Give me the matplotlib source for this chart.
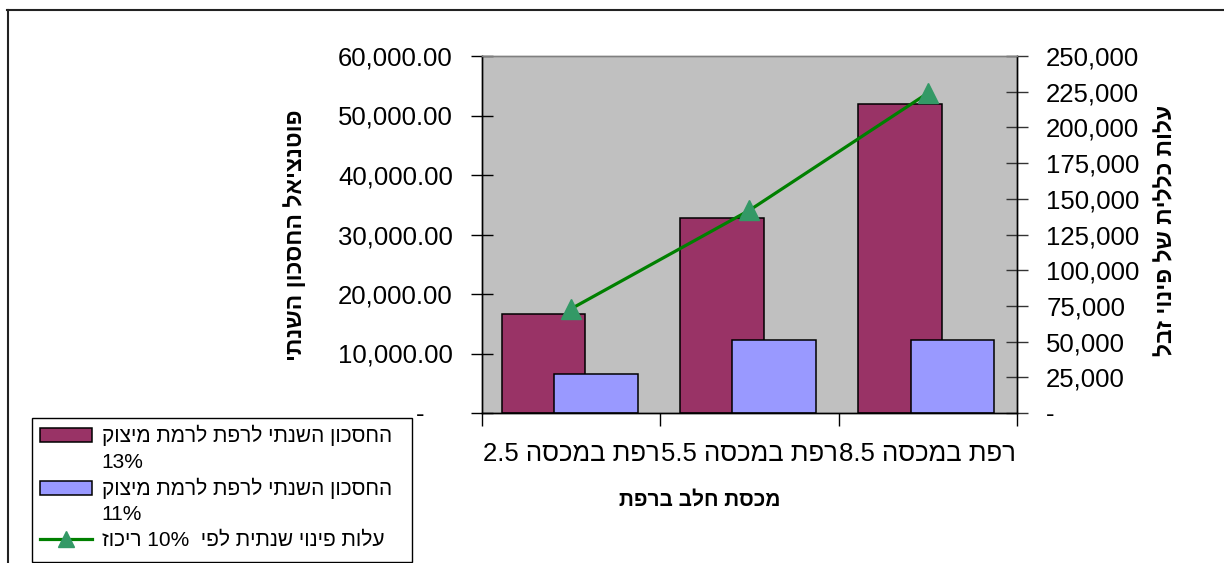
import numpy as np
import matplotlib
matplotlib.use('Agg')
import matplotlib.pyplot as plt
from matplotlib.patches import Rectangle
from matplotlib.lines import Line2D
from matplotlib.ticker import FuncFormatter

plt.rcParams['font.family'] = ['Liberation Sans', 'DejaVu Sans']

# Data
categories = ['רפת במכסה 2.5', 'רפת במכסה 5.5', 'רפת במכסה 8.5']
savings_13 = [16700, 32800, 51900]    # annual saving, 13% solids
savings_11 = [6600, 12300, 12300]     # annual saving, 11% solids
disposal_cost = [73000, 142000, 224000]  # right axis, 10% concentration

label_13 = 'החסכון השנתי לרפת לרמת מיצוק'
label_11 = 'החסכון השנתי לרפת לרמת מיצוק'
label_cost = 'עלות פינוי שנתית לפי  10% ריכוז'
xlabel = 'מכסת חלב ברפת'
ylabel_left = 'פוטנציאל החסכון השנתי'
ylabel_right = 'עלות כללית של פינוי זבל'


def vis(s):
    # matplotlib has no bidi: put Hebrew words in visual order
    out = []
    for tok in reversed(s.split(' ')):
        if any('\u0590' <= c <= '\u05ff' for c in tok):
            tok = tok[::-1]
        out.append(tok)
    return ' '.join(out)


W, H = 1224, 563
fig = plt.figure(figsize=(W / 100, H / 100), dpi=100)
L, R, T, B = 482, 1017, 56, 413
ax = fig.add_axes([L / W, 1 - B / H, (R - L) / W, (B - T) / H])
ax.set_facecolor('#C0C0C0')

x = np.arange(len(categories))
b1 = ax.bar(x - 0.155, savings_13, 0.47, color='#993366', edgecolor='black', linewidth=1.1, zorder=2)
b2 = ax.bar(x + 0.138, savings_11, 0.47, color='#9999FF', edgecolor='black', linewidth=1.1, zorder=2)

ax.set_xlim(-0.5, 2.5)
ax.set_ylim(0, 60000)
ax.set_xticks([-0.5, 0.5, 1.5, 2.5])
ax.set_xticklabels([])
ax.set_xticks(x, minor=True)
ax.set_xticklabels([vis(c) for c in categories], minor=True, fontsize=18.5)
ax.tick_params(axis='x', which='major', direction='out', length=9, width=1)
ax.tick_params(axis='x', which='minor', length=0, pad=21)

ax.set_yticks(np.arange(0, 60001, 10000))
ax.yaxis.set_major_formatter(FuncFormatter(lambda v, p: '-    ' if v == 0 else f'{v:,.2f}'))
ax.tick_params(axis='y', direction='inout', length=16, width=1, pad=13, labelsize=18.5)

ax2 = ax.twinx()
ax2.plot(x, disposal_cost, color='#008000', linewidth=2.3, marker='^', markersize=15,
         markerfacecolor='#339966', markeredgecolor='#339966', zorder=3)
ax2.set_ylim(0, 250000)
ax2.set_yticks(np.arange(0, 250001, 25000))
ax2.yaxis.set_major_formatter(FuncFormatter(lambda v, p: '-' if v == 0 else f'{v:,.0f}'))
ax2.tick_params(axis='y', direction='inout', length=16, width=1, pad=13, labelsize=18.5, color='#333333')

for a in (ax, ax2):
    for s in a.spines.values():
        s.set_linewidth(1)
        s.set_color('black')
    a.spines['top'].set_color('#808080')

# axis titles
fig.text(296 / W, 1 - 235 / H, vis(ylabel_left), rotation=90, ha='center', va='center',
         fontsize=16.5, fontweight='bold')
fig.text(1166 / W, 1 - 230 / H, vis(ylabel_right), rotation=90, ha='center', va='center',
         fontsize=16.5, fontweight='bold')
fig.text(700 / W, 1 - 500 / H, vis(xlabel), ha='center', va='center',
         fontsize=15, fontweight='bold')

# outer chart frame (partly cut off)
fig.add_artist(Line2D([7 / W, 1], [1 - 10 / H, 1 - 10 / H], transform=fig.transFigure, color='#222222', lw=1.5))
fig.add_artist(Line2D([7.5 / W, 7.5 / W], [0, 1 - 10 / H], transform=fig.transFigure, color='#222222', lw=1.5))

# legend box
fig.add_artist(Rectangle((32 / W, 1 - 562 / H), 380 / W, 144 / H, transform=fig.transFigure,
                         facecolor='white', edgecolor='black', lw=1, zorder=4))
blank = Rectangle((0, 0), 1, 1, visible=False)
cost_handle = Line2D([], [], color='#008000', linewidth=2.3, marker='^', markersize=11,
                     markerfacecolor='#339966', markeredgecolor='#339966')
leg = fig.legend([b1, blank, b2, blank, cost_handle],
                 [vis(label_13), '13%', vis(label_11), '11%', vis(label_cost)],
                 loc='upper left', bbox_to_anchor=(36 / W, 1 - 421 / H), borderaxespad=0,
                 frameon=False, fontsize=15, handlelength=2.5, handleheight=0.65,
                 handletextpad=0.45, labelspacing=0.3, borderpad=0.2)
leg.set_zorder(5)

fig.savefig('out.png', dpi=100)
